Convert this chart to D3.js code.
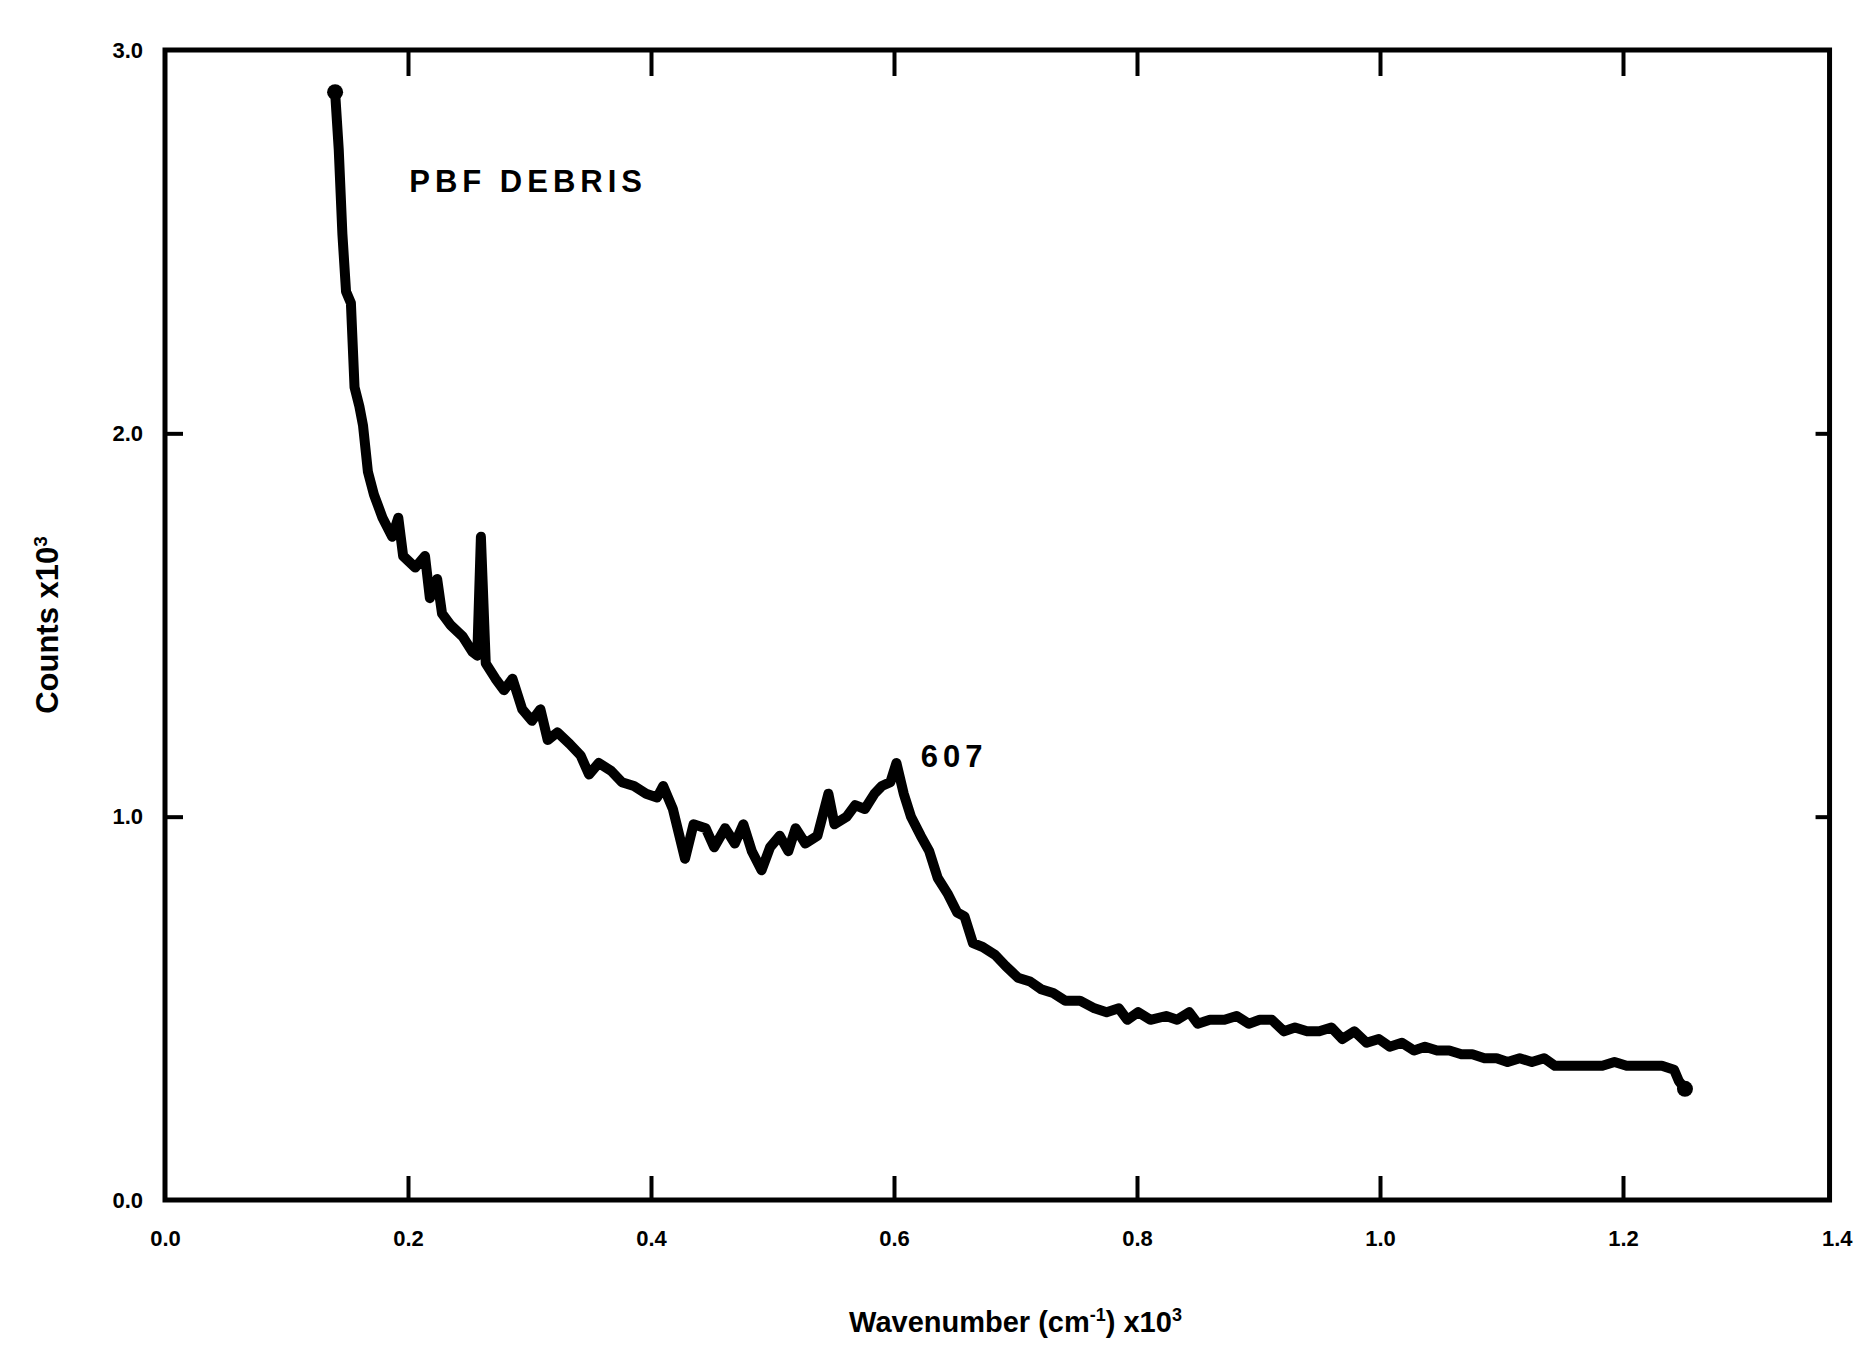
<!DOCTYPE html>
<html>
<head>
<meta charset="utf-8">
<script src="https://cdn.jsdelivr.net/npm/d3@7"></script>
<style>
  body { margin: 0; background: #fff; }
  text { font-family: "Liberation Sans", Arial, sans-serif; font-weight: bold; fill: #000; }
</style>
</head>
<body>
<div id="chart"></div>
<script>
// wavenumber (x10^3 cm^-1) and counts (x10^3)
var waveNum = [0.140,0.143,0.146,0.149,0.153,0.156,0.160,0.163,0.167,0.172,0.179,0.187,0.192,0.196,0.206,0.214,0.218,0.224,0.228,0.235,
  0.245,0.253,0.257,0.260,0.264,0.272,0.279,0.286,0.294,0.302,0.309,0.315,0.323,0.333,0.342,0.349,0.357,0.367,0.376,0.386,
  0.396,0.405,0.410,0.418,0.428,0.435,0.445,0.452,0.461,0.469,0.476,0.483,0.491,0.498,0.506,0.513,0.519,0.527,0.537,0.546,
  0.551,0.561,0.568,0.576,0.584,0.590,0.597,0.602,0.608,0.614,0.622,0.629,0.636,0.644,0.652,0.658,0.665,0.673,0.683,0.692,
  0.702,0.712,0.721,0.731,0.741,0.753,0.765,0.775,0.785,0.792,0.801,0.811,0.824,0.833,0.843,0.850,0.860,0.872,0.882,0.892,
  0.901,0.911,0.921,0.930,0.940,0.950,0.960,0.969,0.979,0.989,0.999,1.008,1.018,1.028,1.037,1.047,1.057,1.067,1.076,1.086,
  1.096,1.105,1.115,1.125,1.135,1.144,1.154,1.164,1.174,1.183,1.193,1.203,1.212,1.222,1.232,1.242,1.246,1.251];
var counts = [2.89,2.74,2.52,2.37,2.34,2.12,2.07,2.02,1.90,1.84,1.78,1.73,1.78,1.68,1.65,1.68,1.57,1.62,1.53,1.50,
  1.47,1.43,1.42,1.73,1.40,1.36,1.33,1.36,1.28,1.25,1.28,1.20,1.22,1.19,1.16,1.11,1.14,1.12,1.09,1.08,
  1.06,1.05,1.08,1.02,0.89,0.98,0.97,0.92,0.97,0.93,0.98,0.91,0.86,0.92,0.95,0.91,0.97,0.93,0.95,1.06,
  0.98,1.00,1.03,1.02,1.06,1.08,1.09,1.14,1.06,1.00,0.95,0.91,0.84,0.80,0.75,0.74,0.67,0.66,0.64,0.61,
  0.58,0.57,0.55,0.54,0.52,0.52,0.50,0.49,0.50,0.47,0.49,0.47,0.48,0.47,0.49,0.46,0.47,0.47,0.48,0.46,
  0.47,0.47,0.44,0.45,0.44,0.44,0.45,0.42,0.44,0.41,0.42,0.40,0.41,0.39,0.40,0.39,0.39,0.38,0.38,0.37,
  0.37,0.36,0.37,0.36,0.37,0.35,0.35,0.35,0.35,0.35,0.36,0.35,0.35,0.35,0.35,0.34,0.31,0.29];

var xTicks = [0, 0.2, 0.4, 0.6, 0.8, 1.0, 1.2, 1.4];
var yTicks = [0, 1, 2, 3];
var notes = [
  {x: 0.201, y: 2.63, label: "PBF DEBRIS"},
  {x: 0.622, y: 1.13, label: "607"}
];

var width = 1855, height = 1352;

var x = d3.scaleLinear().domain([0, 1.4]).range([165, 1866]);
var y = d3.scaleLinear().domain([0, 3]).range([1200, 50]);

var svg = d3.select("#chart").append("svg")
	.attr("width", width)
	.attr("height", height);

var data = waveNum.map(function(d, i){ return {w: d, c: counts[i]}; });

// frame
svg.append("rect")
	.attr("x", x(0))
	.attr("y", y(3))
	.attr("width", x(1.37) - x(0))
	.attr("height", y(0) - y(3))
	.attr("fill", "none")
	.attr("stroke", "#000")
	.attr("stroke-width", 5);

// bottom axis, ticks pointing in
var xAxis = svg.append("g")
	.attr("transform", "translate(0," + y(0) + ")")
	.call(d3.axisBottom(x).tickValues(xTicks).tickSize(-24).tickPadding(46).tickFormat(d3.format(".1f")));
xAxis.select(".domain").remove();
xAxis.selectAll("line").attr("stroke-width", 4)
	.attr("opacity", function(d){ return (d > 0 && d < 1.3) ? 1 : 0; });
xAxis.selectAll("text").style("font-size", "22px").attr("dy", "0")
	.style("text-anchor", function(d){ return d > 1.3 ? "end" : "middle"; })
	.attr("x", function(d){ return d > 1.3 ? 1852 - x(d) : 0; });

// top ticks
var topAxis = svg.append("g")
	.attr("transform", "translate(0," + y(3) + ")")
	.call(d3.axisTop(x).tickValues(xTicks.filter(function(d){ return d > 0 && d < 1.3; })).tickSize(-26).tickFormat(""));
topAxis.select(".domain").remove();
topAxis.selectAll("line").attr("stroke-width", 4);

// left axis
var yAxis = svg.append("g")
	.attr("transform", "translate(" + x(0) + ",0)")
	.call(d3.axisLeft(y).tickValues(yTicks).tickSize(0).tickPadding(22).tickFormat(d3.format(".1f")));
yAxis.select(".domain").remove();
yAxis.selectAll("text").style("font-size", "22px");
var yIn = svg.append("g")
	.attr("transform", "translate(" + x(0) + ",0)")
	.call(d3.axisRight(y).tickValues([1, 2]).tickSize(18).tickFormat(""));
yIn.select(".domain").remove();
yIn.selectAll("line").attr("stroke-width", 4);

// right ticks
var rAxis = svg.append("g")
	.attr("transform", "translate(" + x(1.37) + ",0)")
	.call(d3.axisLeft(y).tickValues([1, 2]).tickSize(14).tickFormat(""));
rAxis.select(".domain").remove();
rAxis.selectAll("line").attr("stroke-width", 4);

// spectrum
var line = d3.line()
	.x(function(d){ return x(d.w); })
	.y(function(d){ return y(d.c); });

svg.append("path")
	.datum(data)
	.attr("fill", "none")
	.attr("stroke", "#000")
	.attr("stroke-width", 10)
	.attr("stroke-linejoin", "round")
	.attr("d", line);

// end dots
svg.selectAll(".endpt")
	.data([data[0], data[data.length - 1]])
	.enter().append("circle")
	.attr("class", "endpt")
	.attr("cx", function(d){ return x(d.w); })
	.attr("cy", function(d){ return y(d.c); })
	.attr("r", 8);

// annotations
svg.selectAll(".note")
	.data(notes)
	.enter().append("text")
	.attr("class", "note")
	.attr("x", function(d){ return x(d.x); })
	.attr("y", function(d){ return y(d.y); })
	.style("font-size", "31px")
	.style("letter-spacing", "5px")
	.text(function(d){ return d.label; });

// axis titles
svg.append("text")
	.attr("x", x(0.7))
	.attr("y", 1332)
	.style("text-anchor", "middle")
	.style("font-size", "29px")
	.html("Wavenumber (cm<tspan dy='-11' font-size='18'>-1</tspan><tspan dy='11'>) x10</tspan><tspan dy='-11' font-size='18'>3</tspan>");

svg.append("text")
	.attr("transform", "translate(58," + y(1.5) + ") rotate(-90)")
	.style("text-anchor", "middle")
	.style("font-size", "31px")
	.html("Counts x10<tspan dy='-11' font-size='19'>3</tspan>");
</script>
</body>
</html>
